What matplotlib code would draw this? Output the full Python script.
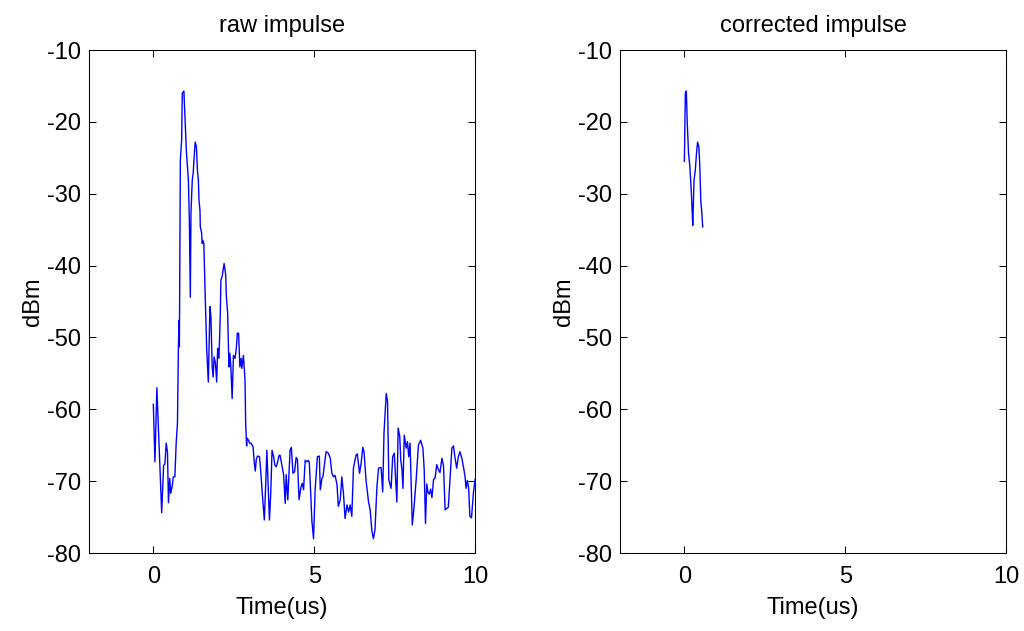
import matplotlib
matplotlib.use("Agg")
import matplotlib.pyplot as plt

plt.rcParams["font.family"] = ["Liberation Sans", "DejaVu Sans"]
plt.rcParams["axes.unicode_minus"] = False

# raw impulse, time in us, level in dBm
raw_t = [0.00, 0.05, 0.11, 0.26, 0.32, 0.36, 0.40, 0.44, 0.47, 0.51, 0.54, 0.59, 0.62, 0.67, 0.71, 0.75,
         0.78, 0.80, 0.81, 0.84, 0.88, 0.90, 0.95, 1.00, 1.03, 1.09, 1.12, 1.15, 1.17, 1.21, 1.24, 1.26,
         1.30, 1.34, 1.37, 1.40, 1.42, 1.45, 1.46, 1.50, 1.52, 1.54, 1.57, 1.61, 1.66, 1.71, 1.76, 1.79,
         1.83, 1.86, 1.89, 1.93, 1.97, 2.00, 2.04, 2.08, 2.10, 2.14, 2.20, 2.25, 2.27, 2.31, 2.35, 2.38,
         2.41, 2.45, 2.49, 2.54, 2.58, 2.61, 2.65, 2.69, 2.73, 2.75, 2.80, 2.85, 2.87, 2.90, 2.91, 2.96,
         2.99, 3.03, 3.06, 3.10, 3.14, 3.17, 3.20, 3.24, 3.30, 3.34, 3.39, 3.45, 3.49, 3.53, 3.57, 3.61,
         3.65, 3.69, 3.74, 3.78, 3.82, 3.86, 3.91, 3.94, 4.05, 4.10, 4.13, 4.18, 4.25, 4.29, 4.34, 4.39,
         4.44, 4.48, 4.53, 4.59, 4.63, 4.67, 4.72, 4.77, 4.82, 4.85, 4.93, 4.98, 5.03, 5.10, 5.16, 5.19,
         5.24, 5.27, 5.31, 5.37, 5.44, 5.50, 5.55, 5.60, 5.65, 5.71, 5.75, 5.81, 5.86, 5.91, 5.96, 6.02,
         6.07, 6.12, 6.17, 6.22, 6.30, 6.34, 6.41, 6.46, 6.51, 6.55, 6.61, 6.69, 6.74, 6.79, 6.84, 6.89,
         6.95, 7.00, 7.08, 7.13, 7.17, 7.24, 7.28, 7.32, 7.39, 7.44, 7.49, 7.57, 7.61, 7.66, 7.69, 7.73,
         7.76, 7.80, 7.86, 7.90, 7.94, 7.98, 8.05, 8.11, 8.17, 8.24, 8.31, 8.38, 8.42, 8.46, 8.50, 8.54,
         8.58, 8.62, 8.66, 8.71, 8.76, 8.81, 8.86, 8.91, 8.97, 9.02, 9.07, 9.12, 9.17, 9.22, 9.28, 9.33,
         9.38, 9.43, 9.48, 9.53, 9.59, 9.64, 9.69, 9.72, 9.76, 9.80, 9.84, 9.89, 9.95, 10.00]
raw_db = [-59.3, -67.3, -57.0, -74.4, -67.8, -67.6, -64.7, -66.0, -73.0, -69.6, -71.7, -70.6, -69.4, -69.4, -64.7, -61.9,
          -51.3, -47.6, -51.3, -25.3, -22.5, -16.0, -15.7, -21.1, -24.3, -28.1, -33.7, -44.4, -32.7, -28.1, -27.1, -25.5,
          -22.8, -23.5, -26.7, -28.1, -30.9, -32.3, -34.6, -35.4, -36.9, -36.5, -36.9, -43.8, -51.7, -56.2, -45.7, -47.1,
          -54.1, -55.5, -52.7, -53.6, -56.2, -51.5, -52.9, -47.1, -42.0, -41.5, -39.7, -41.3, -44.3, -46.6, -54.1, -52.2,
          -54.1, -58.5, -52.5, -52.9, -51.5, -49.4, -49.4, -54.1, -52.9, -54.3, -52.5, -55.9, -62.0, -65.1, -64.0, -64.3,
          -64.7, -64.7, -64.9, -65.2, -67.5, -68.6, -67.0, -66.5, -66.6, -68.7, -71.9, -75.4, -70.8, -65.7, -70.8, -75.4,
          -71.6, -65.7, -66.6, -67.8, -68.0, -67.4, -66.4, -66.4, -69.1, -73.1, -69.1, -72.6, -65.7, -65.3, -68.9, -68.7,
          -66.7, -67.0, -72.6, -70.8, -70.3, -71.2, -67.1, -67.3, -67.1, -67.5, -75.6, -78.0, -71.2, -66.6, -66.5, -71.2,
          -69.6, -69.4, -68.0, -65.9, -66.1, -66.8, -68.9, -69.4, -69.2, -70.5, -73.5, -72.6, -69.4, -71.7, -75.2, -73.3,
          -74.3, -73.3, -74.9, -68.2, -66.4, -66.2, -68.9, -67.5, -65.3, -65.9, -69.8, -72.9, -74.0, -76.8, -78.0, -76.8,
          -70.8, -68.2, -68.1, -71.5, -63.3, -57.8, -58.9, -69.8, -71.0, -66.6, -66.1, -72.9, -62.6, -63.8, -67.0, -68.4,
          -71.0, -63.6, -65.4, -64.5, -66.6, -64.7, -76.1, -73.3, -69.8, -65.0, -64.3, -65.4, -68.4, -75.9, -70.4, -71.6,
          -71.8, -71.1, -72.3, -69.8, -69.5, -67.7, -68.4, -68.8, -66.8, -67.9, -74.0, -73.8, -73.6, -69.8, -65.4, -65.1,
          -66.8, -68.2, -66.6, -65.9, -66.8, -68.0, -69.4, -71.0, -69.9, -70.9, -74.9, -75.1, -71.6, -69.8]

# corrected impulse
cor_t = [0.00, 0.03, 0.06, 0.09, 0.13, 0.17, 0.20, 0.23, 0.26, 0.27, 0.30, 0.34, 0.37, 0.41, 0.45, 0.48,
         0.51, 0.54, 0.57]
cor_db = [-25.5, -16.0, -15.7, -20.2, -24.4, -26.2, -28.5, -31.0, -34.4, -33.0, -28.1, -26.7, -24.8, -22.8,
          -23.5, -26.2, -30.9, -32.5, -34.6]

xticks = [0, 5, 10]
yticks = [-80, -70, -60, -50, -40, -30, -20, -10]

fig = plt.figure(figsize=(10.24, 6.31), dpi=100)
ax1 = fig.add_axes([0.0869, 0.1236, 0.377, 0.797])
ax2 = fig.add_axes([0.6055, 0.1236, 0.377, 0.797])

fs = 17
for ax, t, y, title in [(ax1, raw_t, raw_db, "raw impulse"), (ax2, cor_t, cor_db, "corrected impulse")]:
    ax.plot(t, y, color="#0000ff", linewidth=1.0)
    ax.set_xlim(-2, 10)
    ax.set_ylim(-80, -10)
    ax.set_xticks(xticks)
    ax.set_yticks(yticks)
    ax.tick_params(direction="in", length=5, width=0.75, top=True, right=True, labelsize=fs)
    ax.tick_params(axis="x", pad=9)
    ax.tick_params(axis="y", pad=6)
    for s in ax.spines.values():
        s.set_linewidth(0.75)
    ax.set_title(title, fontsize=fs, pad=13)
    ax.set_xlabel("Time(us)", fontsize=fs, labelpad=7)
    ax.set_ylabel("dBm", fontsize=fs, labelpad=2)

fig.savefig("out.png", dpi=100)
